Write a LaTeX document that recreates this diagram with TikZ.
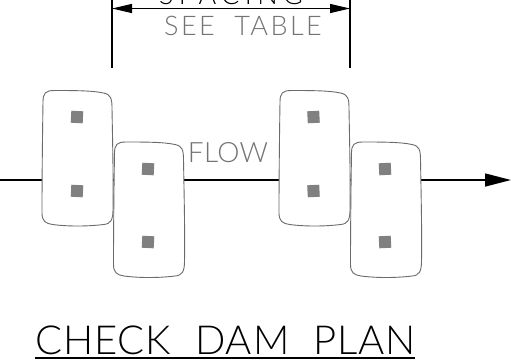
\documentclass[tikz,border=0pt]{standalone}
\usepackage{fontspec}
\setmainfont[WordSpace=2]{Lato Light}
\usetikzlibrary{arrows.meta}
\definecolor{slab}{gray}{0.42}
\definecolor{pin}{gray}{0.5}
\definecolor{graytext}{gray}{0.45}
\newcommand{\slabat}[1]{%
  \draw[slabline] ([shift={(-34.5,-56)}]#1.center)
    .. controls ([shift={(-34.5,-65)}]#1.center) and ([shift={(-32,-67.5)}]#1.center) .. ([shift={(-23,-67.5)}]#1.center)
    .. controls ([shift={(-5,-67.5)}]#1.center) and ([shift={(15,-67.5)}]#1.center) .. ([shift={(26,-65)}]#1.center)
    .. controls ([shift={(33,-63.5)}]#1.center) and ([shift={(34.5,-60)}]#1.center) .. ([shift={(34.5,-50)}]#1.center)
    .. controls ([shift={(35,-20)}]#1.center) and ([shift={(36,20)}]#1.center) .. ([shift={(35.5,52)}]#1.center)
    .. controls ([shift={(35.5,62)}]#1.center) and ([shift={(33,66)}]#1.center) .. ([shift={(26,66.5)}]#1.center)
    .. controls ([shift={(10,68.5)}]#1.center) and ([shift={(-10,68.5)}]#1.center) .. ([shift={(-25,66.5)}]#1.center)
    .. controls ([shift={(-32,65.5)}]#1.center) and ([shift={(-35.5,63)}]#1.center) .. ([shift={(-35.5,55)}]#1.center)
    .. controls ([shift={(-35.5,20)}]#1.center) and ([shift={(-35,-25)}]#1.center) .. cycle;}
\tikzset{
  damslab/.style={minimum width=71pt,minimum height=135pt,inner sep=0pt},
  slabline/.style={draw=slab,fill=white,line width=0.9pt},
  pinsq/.style={fill=pin,minimum size=12pt,inner sep=0pt,rotate=-3},
  flowline/.style={line width=1.4pt,black},
  dimline/.style={line width=1.2pt,black},
  bigtip/.style={-{Triangle[length=26pt,width=13pt]}},
  dimtip/.style={{Triangle[length=20pt,width=9pt]}-{Triangle[length=20pt,width=9pt]}},
  lbl/.style={inner sep=0pt,anchor=base}
}
\begin{document}
\begin{tikzpicture}[x=1pt,y=-1pt]
\useasboundingbox (0,0) rectangle (511,360);
\clip (0,0) rectangle (511,360);
\fill[white] (0,0) rectangle (511,360);
% free ends
\coordinate (w) at (0,180);
\coordinate (e) at (511,180);
\coordinate (dl) at (112,8.5);
\coordinate (dr) at (350,8.5);
\coordinate (dlt) at (112,-2);
\coordinate (dlb) at (112,68);
\coordinate (drt) at (350,-2);
\coordinate (drb) at (350,68);
\coordinate (ul) at (35,358);
\coordinate (ur) at (415,358);
% slab anchors
\node[damslab] (a) at (77.5,158) {};
\node[damslab] (b) at (149,209.5) {};
\node[damslab] (c) at (314.5,158) {};
\node[damslab] (d) at (386,209.5) {};
% connectors behind slabs
\draw[flowline] (w) -- (a.center |- w) -- (b.center |- w) -- (c.center |- w) -- (d.center |- w);
\draw[flowline,bigtip] (d.center |- w) -- (e);
% slabs
\slabat{a}
\slabat{b}
\slabat{c}
\slabat{d}
% pins
\node[pinsq] (a1) at (77,117) {};
\node[pinsq] (a2) at (77,191) {};
\node[pinsq] (b1) at (148,169) {};
\node[pinsq] (b2) at (148,242) {};
\node[pinsq,rotate=6] (c1) at (313.5,117) {};
\node[pinsq,rotate=6] (c2) at (313.5,191) {};
\node[pinsq,rotate=6] (d1) at (385,169) {};
\node[pinsq,rotate=6] (d2) at (385,242) {};
% dimension
\draw[dimline] (dlt) -- (dlb);
\draw[dimline] (drt) -- (drb);
\draw[dimline,dimtip] (dl) -- (dr);
% labels
\node[lbl,text=black] (spacing) at (231,4) {\addfontfeature{LetterSpace=20}\fontsize{27}{27}\selectfont SPACING};
\node[lbl,text=graytext] (table) at (243,35) {\addfontfeature{LetterSpace=9}\fontsize{27}{27}\selectfont SEE TABLE};
\node[lbl,text=graytext] (flow) at (228,162) {\addfontfeature{LetterSpace=1}\fontsize{28}{28}\selectfont FLOW};
\node[lbl,text=black] (title) at (225.5,354) {\addfontfeature{LetterSpace=2.5}\fontsize{40}{40}\selectfont CHECK DAM PLAN};
\draw[line width=1.1pt,black] (ul) -- (ur);
\end{tikzpicture}
\end{document}
